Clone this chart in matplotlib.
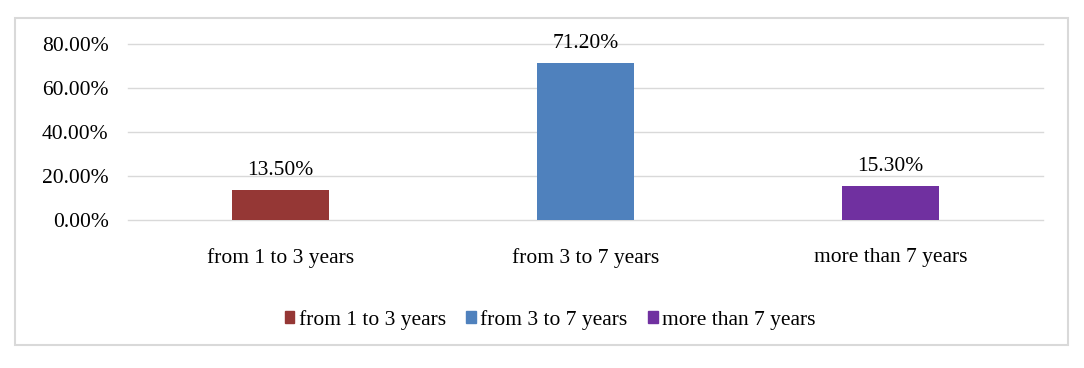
import numpy as np, matplotlib.pyplot as plt
from matplotlib.patches import Rectangle, Patch

categories = ['from 1 to 3 years', 'from 3 to 7 years', 'more than 7 years']
values = [13.50, 71.20, 15.30]
colors = ['#953735', '#4F81BD', '#7030A0']
yticks = [0, 20, 40, 60, 80]

plt.rcParams['font.family'] = ['Liberation Serif', 'DejaVu Serif']
fs = 15.5

fig = plt.figure(figsize=(10.84, 3.68), dpi=100)
ax = fig.add_axes([128/1084, 1-220/368, (1043-128)/1084, 176/368])

x = np.arange(len(categories))
ax.bar(x, values, width=0.315, color=colors, zorder=3)
for xi, v in zip(x, values):
    ax.text(xi, v + 9, '%.2f%%' % v, ha='center', va='center', fontsize=fs, clip_on=False)

ax.set_xlim(-0.5, 2.5)
ax.set_ylim(0, 80)
ax.set_yticks(yticks)
ax.set_yticklabels(['%.2f%%' % t for t in yticks], fontsize=fs)
ax.set_xticks(x)
ax.set_xticklabels(categories, fontsize=fs)
ax.tick_params(length=0)
ax.tick_params(axis='y', pad=14)
ax.tick_params(axis='x', pad=20)
for t in yticks:
    ax.axhline(t, color='#d9d9d9', lw=1, zorder=0, clip_on=False)
for s in ax.spines.values():
    s.set_visible(False)

handles = [Patch(color=c, label=l) for c, l in zip(colors, categories)]
fig.legend(handles=handles, loc='center', bbox_to_anchor=(550/1084, 1-320/368), ncol=3,
           frameon=False, fontsize=fs, handlelength=0.45, handleheight=0.45,
           handletextpad=0.2, columnspacing=0.95)

fig.patches.append(Rectangle((15/1084, 1-345/368), (1068-15)/1084, (345-18)/368,
                             transform=fig.transFigure, fill=False, ec='#d9d9d9', lw=1.5))

fig.savefig('out.png', dpi=100)
